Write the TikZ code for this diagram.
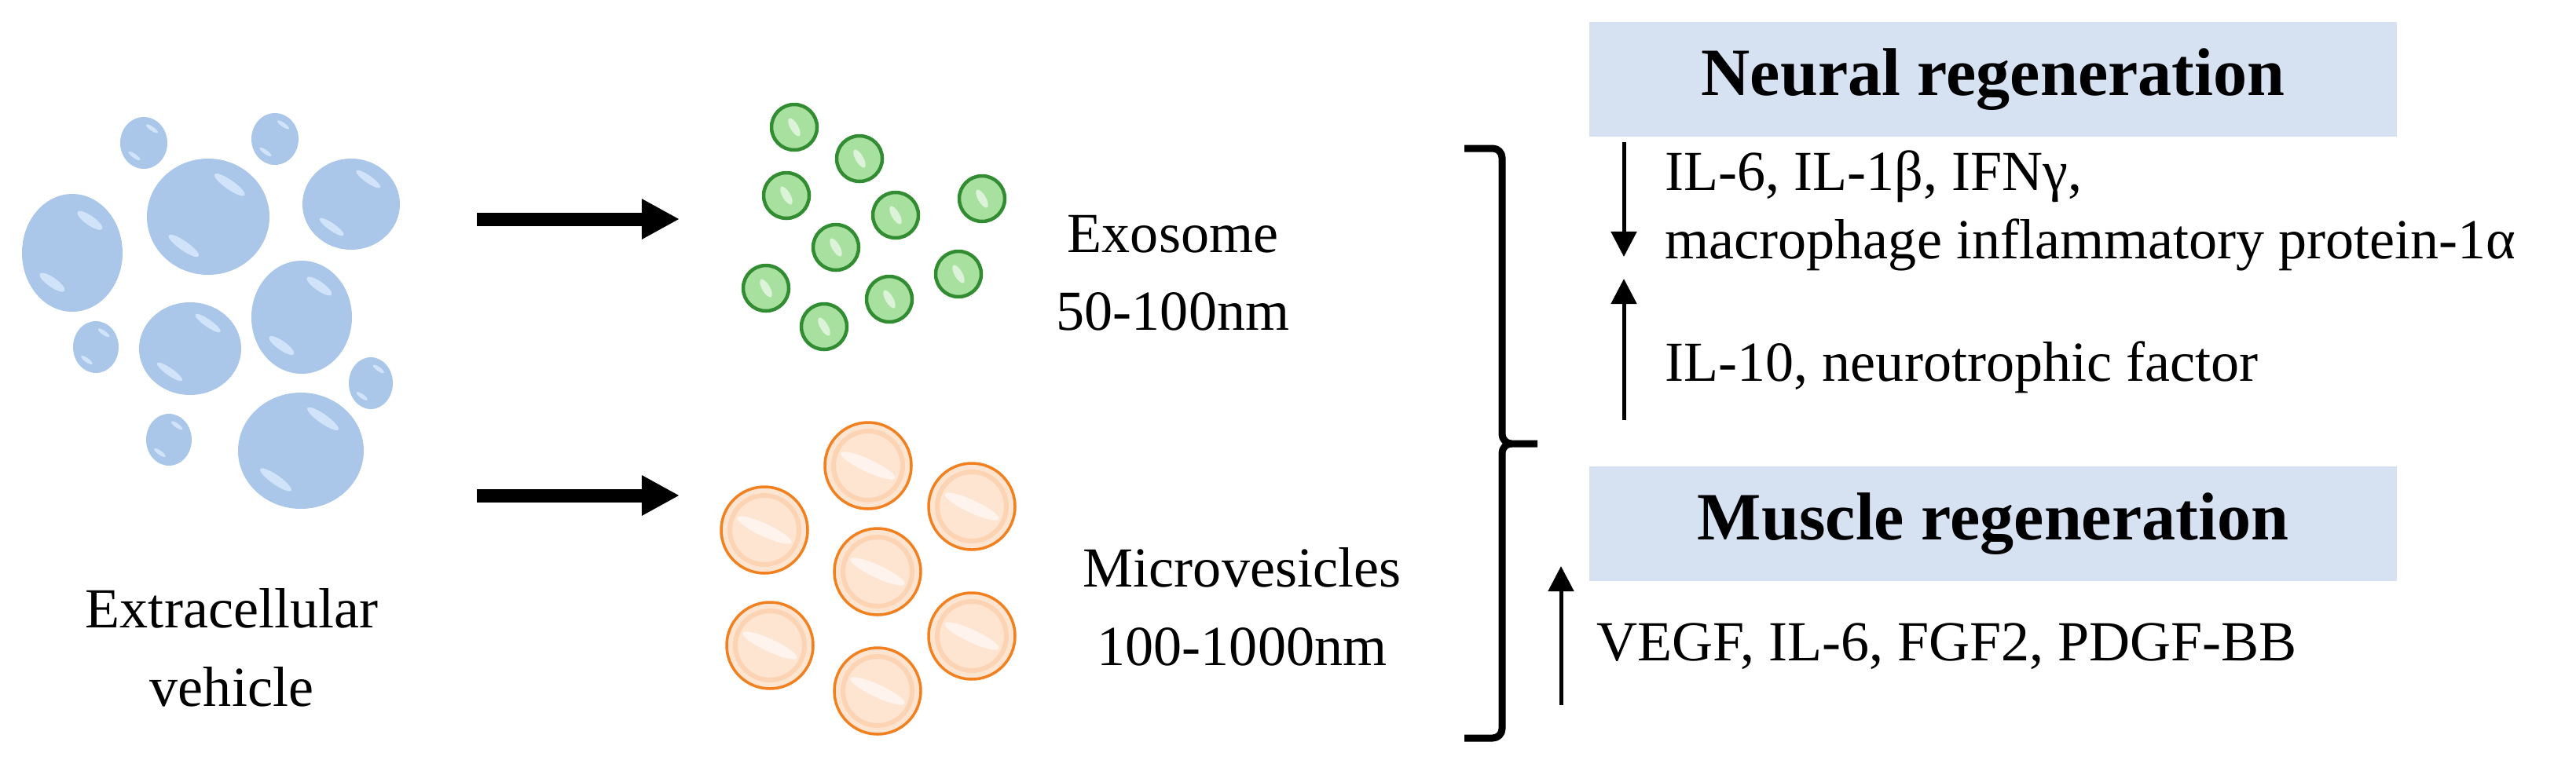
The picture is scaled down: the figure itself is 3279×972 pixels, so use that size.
\documentclass[tikz,border=0pt]{standalone}
\usepackage{fontspec}
\setmainfont{Liberation Serif}
\usetikzlibrary{arrows.meta}
\definecolor{bub}{RGB}{170,198,232}
\definecolor{bubhi}{RGB}{225,240,255}
\definecolor{gfill}{RGB}{168,224,160}
\definecolor{gedge}{RGB}{50,140,50}
\definecolor{oedge}{RGB}{242,128,30}
\definecolor{ofill}{RGB}{252,212,180}
\definecolor{boxbg}{RGB}{214,226,242}
\begin{document}
\begin{tikzpicture}[x=0.01cm,y=-0.01cm,
  lab/.style={font=\fontsize{20.5}{24}\selectfont,inner sep=0pt},
  title/.style={font=\fontsize{24.5}{28}\selectfont\bfseries,inner sep=0pt},
  bigarrow/.style={line width=0.17cm,-{Triangle[length=0.48cm,width=0.48cm]}},
  smallarrow/.style={line width=0.05cm,-{Triangle[length=0.32cm,width=0.32cm]}},
  brace/.style={line width=0.09cm,line join=round}]
\useasboundingbox (0,0) rectangle (3279,972);
% extracellular vesicles (blue)
\foreach \x/\y/\a/\b in {183/182/30/33,350/177/30/33,265/276/78/74,92/322/64/75,447/260/62/58,
  122/442/29/33,242/444/65/59,384/404/64/72,472/488/28/33,215/560/29/33,383/574/80/74}{
  \fill[bub] (\x,\y) ellipse ({\a} and {\b});
  \fill[bubhi,opacity=0.7,rotate around={-35:(\x+0.35*\a,\y-0.55*\b)}] (\x+0.35*\a,\y-0.55*\b) ellipse ({0.3*\a} and {0.08*\b});
  \fill[bubhi,opacity=0.7,rotate around={-35:(\x-0.4*\a,\y+0.5*\b)}] (\x-0.4*\a,\y+0.5*\b) ellipse ({0.3*\a} and {0.08*\b});
}
% exosomes (green)
\foreach \x/\y in {1011/162,1094/202,1001/249,1140/274,1250/253,1064/315,1220/349,975/367,1132/381,1049/416}{
  \fill[gfill,draw=gedge,line width=0.045cm] (\x,\y) circle (29);
  \fill[white,opacity=0.6,rotate around={-60:(\x,\y)}] (\x,\y) ellipse (13 and 5);
}
% microvesicles (orange)
\foreach \x/\y in {1105/593,973/675,1237/645,1117/728,980/822,1237/810,1117/880}{
  \fill[ofill!60!white,draw=oedge,line width=0.035cm] (\x,\y) circle (55);
  \draw[ofill,line width=0.06cm] (\x,\y) circle (44);
  \fill[white,opacity=0.6,rotate around={-25:(\x,\y)}] (\x,\y) ellipse (38 and 8);
}
% arrows
\coordinate (a1s) at (607,279); \coordinate (a1e) at (865,279);
\coordinate (a2s) at (607,631); \coordinate (a2e) at (865,631);
\draw[bigarrow] (a1s) -- (a1e);
\draw[bigarrow] (a2s) -- (a2e);
% labels
\node[lab,align=center] (ev) at (295,825) {Extracellular\\[0.15cm]vehicle};
\node[lab,align=center] (exo) at (1493,348) {Exosome\\[0.15cm]50-100nm};
\node[lab,align=center] (mv) at (1581,773) {Microvesicles\\[0.15cm]100-1000nm};
% brace
\draw[brace] (1864,189) -- (1900,189) to[out=0,in=90] (1912,201) -- (1912,553) to[out=-90,in=180] (1924,565) -- (1957,565);
\draw[brace] (1924,565) to[out=180,in=90] (1912,577) -- (1912,928) to[out=-90,in=0] (1900,940) -- (1864,940);
% boxes
\node[fill=boxbg,minimum width=10.28cm,minimum height=1.46cm,inner sep=0pt] (nbox) at (2537,101) {};
\node[title] (ntitle) at (nbox.center) {Neural regeneration};
\node[fill=boxbg,minimum width=10.28cm,minimum height=1.46cm,inner sep=0pt] (mbox) at (2537,667) {};
\node[title] (mtitle) at (mbox.center) {Muscle regeneration};
% right texts
\node[lab,anchor=west] (t1) at (2119,225) {IL-6, IL-1β, IFNγ,};
\node[lab,anchor=west] (t2) at (2119,312) {macrophage inflammatory protein-1α};
\node[lab,anchor=west] (t3) at (2119,468) {IL-10, neurotrophic factor};
\node[lab,anchor=west] (t4) at (2032,823) {VEGF, IL-6, FGF2, PDGF-BB};
\coordinate (d1s) at (2067,181); \coordinate (d1e) at (2067,327);
\coordinate (u1s) at (2067,535); \coordinate (u1e) at (2067,355);
\coordinate (u2s) at (1987,898); \coordinate (u2e) at (1987,721);
\draw[smallarrow] (d1s) -- (d1e);
\draw[smallarrow] (u1s) -- (u1e);
\draw[smallarrow] (u2s) -- (u2e);
\end{tikzpicture}
\end{document}
